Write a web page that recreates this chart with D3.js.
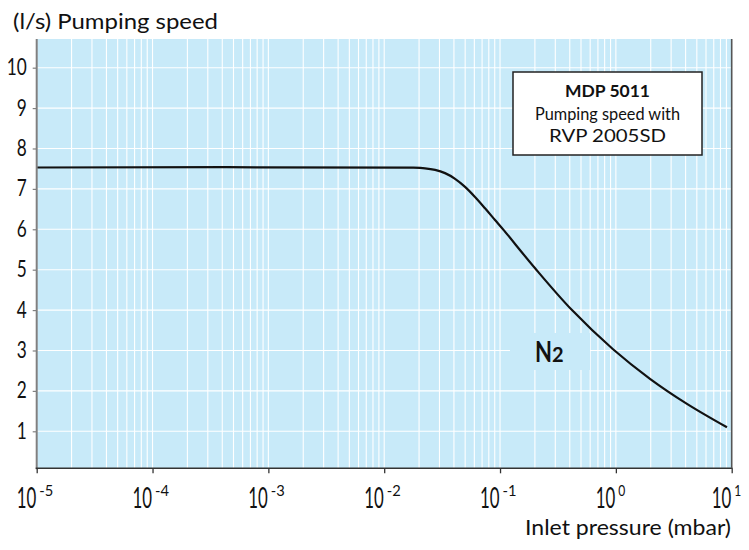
<!DOCTYPE html>
<html>
<head>
<meta charset="utf-8">
<script src="https://cdn.jsdelivr.net/npm/d3@7"></script>
<style>
  body { margin: 0; background: #fff; }
  text { font-family: Lato, "Open Sans", sans-serif; fill: #111; }
</style>
</head>
<body>
<svg id="chart" width="749" height="550"></svg>
<script>
// Pumping speed curve (N2, MDP 5011 + RVP 2005SD)
const pressure = [1e-5, 0.0176, 0.0225, 0.0275, 0.0335, 0.0409, 0.0499, 0.0608, 0.0742, 0.0905, 0.109, 0.2, 0.418, 0.945, 1.97, 4.11, 9.1];
const speed = [7.53, 7.525, 7.51, 7.47, 7.39, 7.25, 7.05, 6.80, 6.52, 6.23, 5.96, 5.04, 4.0, 3.03, 2.30, 1.68, 1.10];
const yTicks = [1, 2, 3, 4, 5, 6, 7, 8, 9, 10];
const xDecades = [-5, -4, -3, -2, -1, 0, 1];
const boxLines = ['MDP 5011', 'Pumping speed with', 'RVP 2005SD'];
const boxWidths = [85, 145, 117];

const svg = d3.select('#chart');
const pLeft = 36.7, pRight = 731.7, pTop = 39, pBottom = 468.3;
const bg = '#c8eaf9';

const x = d3.scaleLog().domain([1e-5, 10]).range([pLeft, pRight]);
const y = d3.scaleLinear().domain([0.084, 10.71]).range([pBottom, pTop]);

// plot background
svg.append('rect')
  .attr('x', pLeft).attr('y', pTop)
  .attr('width', pRight - pLeft).attr('height', pBottom - pTop)
  .attr('fill', bg);

// grid: decades and 2..9 minors
const minors = [];
for (let d = -5; d < 1; d++) {
  for (let m = 1; m <= 9; m++) minors.push(m * Math.pow(10, d));
}
minors.push(10);

const grid = svg.append('g').attr('stroke', '#fff').attr('stroke-width', 1.1);
grid.selectAll('line.v')
  .data(minors)
  .join('line')
  .attr('class', 'v')
  .attr('x1', (d) => x(d)).attr('x2', (d) => x(d))
  .attr('y1', pTop).attr('y2', pBottom);
grid.selectAll('line.h')
  .data(yTicks)
  .join('line')
  .attr('class', 'h')
  .attr('x1', pLeft).attr('x2', pRight)
  .attr('y1', (d) => y(d)).attr('y2', (d) => y(d));

// patch behind the N2 label hides the grid
svg.append('rect')
  .attr('x', 510).attr('y', 333).attr('width', 80).attr('height', 37)
  .attr('fill', bg);

// curve
const line = d3.line()
  .x((d, i) => x(pressure[i]))
  .y((d) => y(d))
  .curve(d3.curveCatmullRom.alpha(0.5));

svg.append('path')
  .datum(speed)
  .attr('d', line)
  .attr('fill', 'none')
  .attr('stroke', '#111')
  .attr('stroke-width', 2.2);

// axes
const yAxis = svg.append('g')
  .attr('transform', `translate(${pLeft},0)`)
  .call(d3.axisLeft(y).tickValues(yTicks).tickSize(4).tickPadding(6).tickFormat(d3.format('d')));
yAxis.select('.domain').attr('stroke', '#808080').attr('stroke-width', 2)
  .attr('d', `M0,${pTop}V${pBottom + 1}`);
yAxis.selectAll('.tick line').attr('stroke', '#808080').attr('stroke-width', 1.2);
yAxis.selectAll('.tick text')
  .attr('font-size', 24).attr('fill', '#111')
  .attr('dy', null).attr('y', 7)
  .attr('x', -10)
  .attr('textLength', (d) => (d >= 10 ? 20 : 10))
  .attr('lengthAdjust', 'spacingAndGlyphs');

const xAxis = svg.append('g')
  .attr('transform', `translate(0,${pBottom})`)
  .call(d3.axisBottom(x).tickValues(xDecades.map((e) => Math.pow(10, e))).tickSize(5).tickFormat(''));
xAxis.select('.domain').attr('stroke', '#333').attr('stroke-width', 1.6)
  .attr('d', `M${pLeft - 1},0H${pRight + 0.8}`);
xAxis.selectAll('.tick line').attr('stroke', '#333').attr('stroke-width', 1.3);

// decade labels: "10" with a raised exponent, one text element each
const decLabels = svg.append('g').selectAll('text')
  .data(xDecades)
  .join('text')
  .attr('x', (d) => x(Math.pow(10, d)) - 20)
  .attr('y', 508)
  .attr('font-size', 28);
decLabels.append('tspan')
  .attr('textLength', 19.5)
  .attr('lengthAdjust', 'spacingAndGlyphs')
  .text('10');
decLabels.append('tspan')
  .attr('dx', 3)
  .attr('dy', -12.5)
  .attr('font-size', 15)
  .attr('textLength', (d) => (d < 0 ? 14 : 7))
  .attr('lengthAdjust', 'spacingAndGlyphs')
  .text((d) => (d < 0 ? '-' + Math.abs(d) : String(d)));

// right border
svg.append('line')
  .attr('x1', pRight).attr('x2', pRight).attr('y1', pTop).attr('y2', pBottom)
  .attr('stroke', '#555').attr('stroke-width', 1.6);

// axis titles
svg.append('text').attr('x', 13).attr('y', 29).attr('font-size', 21)
  .attr('textLength', 205).attr('lengthAdjust', 'spacingAndGlyphs')
  .text('(l/s) Pumping speed');
svg.append('text').attr('x', 525).attr('y', 534.5)
  .attr('font-size', 22)
  .attr('textLength', 206).attr('lengthAdjust', 'spacingAndGlyphs')
  .text('Inlet pressure (mbar)');

// legend box
svg.append('rect')
  .attr('x', 513).attr('y', 72).attr('width', 189).attr('height', 83)
  .attr('fill', '#fff').attr('stroke', '#222').attr('stroke-width', 1.5);
svg.append('g').selectAll('text')
  .data(boxLines)
  .join('text')
  .attr('x', (d, i) => 607.5 - boxWidths[i] / 2)
  .attr('y', (d, i) => [97.3, 120, 141.7][i])
  .attr('font-size', 17)
  .attr('font-weight', (d, i) => (i === 0 ? 700 : 400))
  .attr('textLength', (d, i) => boxWidths[i])
  .attr('lengthAdjust', 'spacingAndGlyphs')
  .text((d) => d);

// gas label
const n2 = svg.append('text').attr('x', 535).attr('y', 362)
  .attr('font-size', 29).attr('font-weight', 700);
n2.append('tspan').attr('textLength', 17).attr('lengthAdjust', 'spacingAndGlyphs').text('N');
n2.append('tspan').attr('font-size', 20).text('2');
</script>
</body>
</html>
